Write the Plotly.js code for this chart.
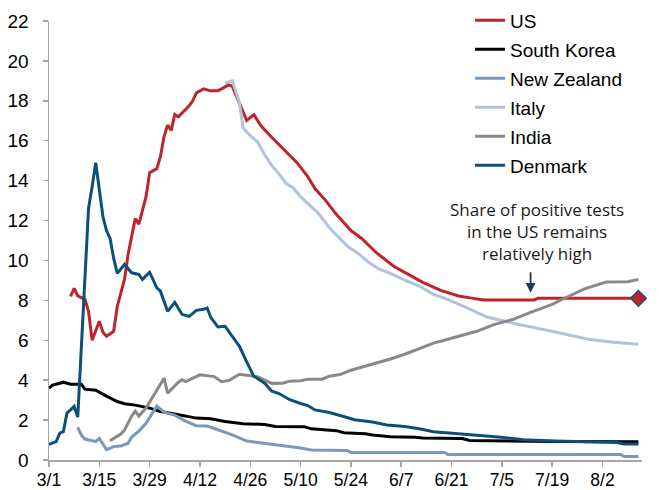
<!DOCTYPE html>
<html><head><meta charset="utf-8">
<script src="https://cdn.plot.ly/plotly-3.0.1.min.js"></script>
<style>html,body{margin:0;padding:0;background:#fff}#chart{width:659px;height:490px}</style>
</head><body><div id="chart"></div>
<script>
const YEAR = '2020-';

const seriesNames = ['US', 'South Korea', 'New Zealand', 'Italy', 'India', 'Denmark'];

const usDates = ['03-07','03-08','03-09','03-11','03-12','03-13','03-15','03-16','03-17','03-19','03-20','03-22','03-23','03-24','03-25','03-26','03-28','03-29','03-31','04-01','04-02','04-03','04-04','04-05','04-06','04-09','04-10','04-11','04-13','04-15','04-17','04-19','04-20','04-21','04-23','04-25','04-27','04-29','05-01','05-03','05-05','05-07','05-09','05-12','05-14','05-17','05-20','05-24','05-27','05-31','06-05','06-09','06-13','06-18','06-23','06-27','06-30','07-14','07-15','08-12'];
const usValues = [8.2,8.6,8.22,8.05,7.45,6.0,6.95,6.4,6.2,6.45,7.7,9.05,10.3,11.2,12.1,11.82,13.2,14.4,14.6,15.2,16.2,16.78,16.52,17.32,17.2,17.75,18.0,18.4,18.6,18.5,18.5,18.7,18.8,18.72,17.85,17.02,17.3,16.75,16.35,16.0,15.6,15.3,14.9,14.2,13.6,13.0,12.3,11.5,11.1,10.4,9.7,9.3,8.9,8.5,8.22,8.1,8.02,8.02,8.1,8.1];

const koreaDates = ['03-01','03-02','03-04','03-05','03-07','03-10','03-11','03-14','03-17','03-20','03-22','03-25','03-29','04-01','04-05','04-11','04-15','04-19','04-24','04-30','05-03','05-11','05-13','05-20','05-22','05-28','05-30','06-04','06-11','06-13','06-24','06-26','07-19','08-12'];
const koreaValues = [3.6,3.75,3.85,3.9,3.8,3.8,3.55,3.5,3.2,2.93,2.82,2.75,2.6,2.43,2.3,2.1,2.07,1.93,1.82,1.78,1.68,1.67,1.56,1.47,1.37,1.31,1.25,1.17,1.14,1.1,1.08,0.98,0.93,0.92];

const nzDates = ['03-09','03-10','03-11','03-14','03-15','03-17','03-19','03-21','03-23','03-24','03-26','03-28','03-31','04-02','04-05','04-08','04-11','04-14','04-16','04-18','04-21','04-25','04-29','05-01','05-05','05-10','05-13','05-23','05-24','06-19','06-20','08-07','08-08','08-12'];
const nzValues = [1.63,1.25,1.05,0.93,1.08,0.52,0.67,0.7,0.84,1.15,1.45,1.84,2.7,2.4,2.25,1.95,1.72,1.7,1.58,1.45,1.26,0.95,0.86,0.8,0.7,0.6,0.5,0.48,0.38,0.38,0.28,0.28,0.18,0.18];

const italyDates = ['04-19','04-21','04-22','04-23','04-24','04-26','04-28','04-30','05-02','05-04','05-06','05-08','05-10','05-12','05-15','05-18','05-21','05-23','05-26','05-29','06-01','06-04','06-08','06-12','06-16','06-20','06-25','07-01','07-06','07-10','07-19','07-29','08-05','08-12'];
const italyValues = [18.9,19.0,18.45,17.9,16.65,16.25,15.95,15.3,14.75,14.35,13.85,13.62,13.2,12.85,12.35,11.65,11.1,10.72,10.35,9.9,9.55,9.35,9.02,8.72,8.3,8.05,7.65,7.15,6.95,6.78,6.45,6.05,5.9,5.8];

const indiaDates = ['03-18','03-21','03-22','03-24','03-25','03-26','03-28','04-02','04-03','04-06','04-07','04-08','04-12','04-16','04-18','04-20','04-23','04-25','04-28','05-02','05-05','05-07','05-10','05-12','05-16','05-18','05-21','05-24','05-28','05-31','06-04','06-08','06-11','06-16','06-19','06-23','06-28','07-03','07-08','07-13','07-19','07-22','07-28','08-03','08-09','08-12'];
const indiaValues = [0.97,1.3,1.5,2.2,2.45,2.2,2.6,4.1,3.35,3.9,4.02,3.93,4.27,4.18,3.92,3.98,4.3,4.25,4.17,3.84,3.85,3.95,3.97,4.05,4.05,4.2,4.28,4.5,4.7,4.86,5.06,5.3,5.5,5.86,6.0,6.2,6.45,6.8,7.04,7.4,7.8,8.07,8.58,8.92,8.93,9.05];

const denmarkDates = ['03-01','03-03','03-04','03-05','03-06','03-07','03-08','03-09','03-12','03-13','03-14','03-16','03-17','03-18','03-19','03-20','03-22','03-24','03-26','03-27','03-29','03-31','04-01','04-03','04-05','04-07','04-09','04-11','04-13','04-14','04-15','04-17','04-19','04-21','04-23','04-25','04-27','04-30','05-02','05-04','05-07','05-10','05-12','05-14','05-18','05-22','05-25','05-30','06-03','06-08','06-12','06-16','06-22','06-27','07-04','07-11','07-20','08-06','08-08','08-12'];
const denmarkValues = [0.78,0.92,1.35,1.42,2.35,2.5,2.68,2.15,12.6,13.7,14.9,12.2,11.5,11.1,10.1,9.35,9.8,9.38,9.3,9.05,9.41,8.63,8.46,7.45,7.9,7.3,7.2,7.5,7.55,7.62,7.15,6.67,6.7,6.2,5.7,4.92,4.2,3.85,3.45,3.33,3.02,2.83,2.73,2.51,2.38,2.18,2.02,1.9,1.75,1.68,1.57,1.42,1.34,1.26,1.15,1.02,0.95,0.88,0.8,0.8];

const tickDates = ['03-01','03-15','03-29','04-12','04-26','05-10','05-24','06-07','06-21','07-05','07-19','08-02'];
const tickLabels = ['3/1','3/15','3/29','4/12','4/26','5/10','5/24','6/7','6/21','7/5','7/19','8/2'];

const noteText = 'Share of positive tests<br>in the US remains<br>relatively high';

const colors = ['#C1232B', '#000000', '#7A98BE', '#B0C3D9', '#898989', '#0C5079'];
const allDates = [usDates, koreaDates, nzDates, italyDates, indiaDates, denmarkDates];
const allValues = [usValues, koreaValues, nzValues, italyValues, indiaValues, denmarkValues];

const toX = arr => arr.map(d => YEAR + d);

const traces = seriesNames.map((name, i) => ({
  type: 'scatter', mode: 'lines', name: name,
  x: toX(allDates[i]), y: allValues[i],
  line: {color: colors[i], width: 3},
  legendgroup: 'g' + i,
  hoverinfo: 'skip'
}));

traces.push({
  type: 'scatter', mode: 'markers', showlegend: false, cliponaxis: false,
  x: [YEAR + usDates[usDates.length - 1]], y: [usValues[usValues.length - 1]],
  marker: {symbol: 'diamond', size: 12, color: colors[0], line: {color: '#1F4E79', width: 1.5}},
  hoverinfo: 'skip'
});

const axisGray = '#A6A6A6';
const baseFont = {family: 'Liberation Sans, Arial, sans-serif', size: 19, color: '#000000'};

const layout = {
  width: 659, height: 490,
  margin: {l: 49, r: 17, t: 21, b: 30, pad: 0, autoexpand: false},
  paper_bgcolor: '#ffffff', plot_bgcolor: '#ffffff',
  font: baseFont,
  showlegend: true,
  legend: {
    x: 0.71, xanchor: 'left', y: 1.0444, yanchor: 'top',
    bgcolor: 'rgba(0,0,0,0)', borderwidth: 0,
    font: baseFont, traceorder: 'grouped', tracegroupgap: 1.3
  },
  xaxis: {
    type: 'date',
    range: [YEAR + '03-01', YEAR + '08-13'],
    tickmode: 'array', tickvals: toX(tickDates), ticktext: tickLabels,
    showgrid: false, zeroline: false, automargin: false,
    showline: true, linecolor: axisGray, linewidth: 1.5,
    ticks: 'outside', ticklen: 5, tickcolor: axisGray, tickwidth: 1.5,
    ticklabelstandoff: -2,
    tickfont: {family: baseFont.family, size: 17.5, color: '#000000'}
  },
  yaxis: {
    range: [0, 22], dtick: 2, tick0: 0, automargin: false,
    showgrid: false, zeroline: false,
    showline: true, linecolor: axisGray, linewidth: 1.5,
    ticks: 'outside', ticklen: 5, tickcolor: axisGray, tickwidth: 1.5,
    tickfont: baseFont, ticklabelstandoff: 10
  },
  annotations: [
    {
      xref: 'paper', yref: 'paper', x: 0.8224, y: 0.52,
      xanchor: 'center', yanchor: 'middle', showarrow: false,
      text: noteText, align: 'center',
      font: {family: 'Open Sans, sans-serif', size: 17, color: '#1a1a1a'}
    },
    {
      xref: 'x', yref: 'y', x: YEAR + '07-13', y: 8.38,
      ax: 0, ay: -22, text: '', showarrow: true,
      arrowhead: 2, arrowsize: 1.1, arrowwidth: 1.8, arrowcolor: '#1F3A5F', standoff: 0
    }
  ]
};

Plotly.newPlot('chart', traces, layout, {staticPlot: true, displayModeBar: false});
</script>
</body></html>
